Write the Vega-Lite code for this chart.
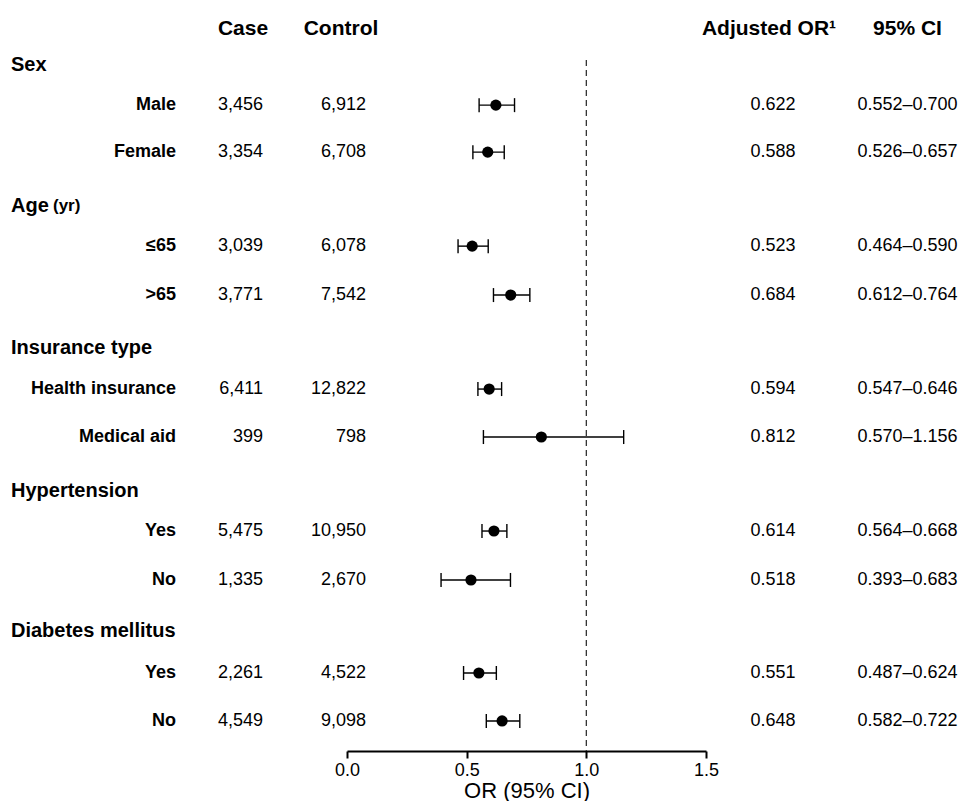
{
  "$schema": "https://vega.github.io/schema/vega-lite/v6.json",
  "padding": 0,
  "spacing": 0,
  "bounds": "flush",
  "background": "white",
  "config": {
    "view": {"stroke": null},
    "text": {"font": "Liberation Sans", "color": "black", "baseline": "middle"},
    "axis": {"labelFont": "Liberation Sans", "titleFont": "Liberation Sans", "labelColor": "black", "titleColor": "black"}
  },
  "datasets": {
    "headers": [
      {"pos": 0.6, "col": "case", "text": "Case"},
      {"pos": 0.6, "col": "control", "text": "Control"},
      {"pos": 0.6, "col": "or", "text": "Adjusted OR¹"},
      {"pos": 0.6, "col": "ci", "text": "95% CI"}
    ],
    "groups": [
      {"pos": 1.34, "label": "Sex"},
      {"pos": 4.25, "label": "Age", "suffix": "(yr)"},
      {"pos": 7.18, "label": "Insurance type"},
      {"pos": 10.13, "label": "Hypertension"},
      {"pos": 13.02, "label": "Diabetes mellitus"}
    ],
    "rows": [
      {"pos": 2.17, "label": "Male", "case": 3456, "control": 6912, "or": 0.622, "lo": 0.552, "hi": 0.700, "ci": "0.552–0.700"},
      {"pos": 3.14, "label": "Female", "case": 3354, "control": 6708, "or": 0.588, "lo": 0.526, "hi": 0.657, "ci": "0.526–0.657"},
      {"pos": 5.08, "label": "≤65", "case": 3039, "control": 6078, "or": 0.523, "lo": 0.464, "hi": 0.590, "ci": "0.464–0.590"},
      {"pos": 6.09, "label": ">65", "case": 3771, "control": 7542, "or": 0.684, "lo": 0.612, "hi": 0.764, "ci": "0.612–0.764"},
      {"pos": 8.03, "label": "Health insurance", "case": 6411, "control": 12822, "or": 0.594, "lo": 0.547, "hi": 0.646, "ci": "0.547–0.646"},
      {"pos": 9.02, "label": "Medical aid", "case": 399, "control": 798, "or": 0.812, "lo": 0.570, "hi": 1.156, "ci": "0.570–1.156"},
      {"pos": 10.96, "label": "Yes", "case": 5475, "control": 10950, "or": 0.614, "lo": 0.564, "hi": 0.668, "ci": "0.564–0.668"},
      {"pos": 11.97, "label": "No", "case": 1335, "control": 2670, "or": 0.518, "lo": 0.393, "hi": 0.683, "ci": "0.393–0.683"},
      {"pos": 13.89, "label": "Yes", "case": 2261, "control": 4522, "or": 0.551, "lo": 0.487, "hi": 0.624, "ci": "0.487–0.624"},
      {"pos": 14.88, "label": "No", "case": 4549, "control": 9098, "or": 0.648, "lo": 0.582, "hi": 0.722, "ci": "0.582–0.722"}
    ]
  },
  "hconcat": [
    {
      "width": 190,
      "height": 751,
      "layer": [
        {
          "data": {"name": "groups"},
          "mark": {"type": "text", "align": "left", "dx": -84, "fontSize": 20, "fontWeight": "bold"},
          "encoding": {
            "y": {"field": "pos", "type": "quantitative", "scale": {"domain": [0, 15.5], "reverse": true, "nice": false, "zero": false}, "axis": null},
            "text": {"field": "label"}
          }
        },
        {
          "data": {"name": "groups"},
          "transform": [{"filter": "datum.suffix"}],
          "mark": {"type": "text", "align": "left", "dx": -42, "fontSize": 17, "fontWeight": "bold"},
          "encoding": {
            "y": {"field": "pos", "type": "quantitative", "scale": {"domain": [0, 15.5], "reverse": true, "nice": false, "zero": false}, "axis": null},
            "text": {"field": "suffix"}
          }
        },
        {
          "data": {"name": "rows"},
          "mark": {"type": "text", "align": "right", "dx": 81, "fontSize": 18, "fontWeight": "bold"},
          "encoding": {
            "y": {"field": "pos", "type": "quantitative", "scale": {"domain": [0, 15.5], "reverse": true, "nice": false, "zero": false}, "axis": null},
            "text": {"field": "label"}
          }
        }
      ]
    },
    {
      "width": 80,
      "height": 751,
      "layer": [
        {
          "data": {"name": "headers"},
          "transform": [{"filter": "datum.col == 'case'"}],
          "mark": {"type": "text", "align": "center", "dx": 13, "fontSize": 21, "fontWeight": "bold"},
          "encoding": {
            "y": {"field": "pos", "type": "quantitative", "scale": {"domain": [0, 15.5], "reverse": true, "nice": false, "zero": false}, "axis": null},
            "text": {"field": "text"}
          }
        },
        {
          "data": {"name": "rows"},
          "mark": {"type": "text", "align": "right", "dx": 33, "fontSize": 18},
          "encoding": {
            "y": {"field": "pos", "type": "quantitative", "scale": {"domain": [0, 15.5], "reverse": true, "nice": false, "zero": false}, "axis": null},
            "text": {"field": "case", "type": "quantitative", "format": ","}
          }
        }
      ]
    },
    {
      "width": 77,
      "height": 751,
      "layer": [
        {
          "data": {"name": "headers"},
          "transform": [{"filter": "datum.col == 'control'"}],
          "mark": {"type": "text", "align": "center", "dx": 32.5, "fontSize": 21, "fontWeight": "bold"},
          "encoding": {
            "y": {"field": "pos", "type": "quantitative", "scale": {"domain": [0, 15.5], "reverse": true, "nice": false, "zero": false}, "axis": null},
            "text": {"field": "text"}
          }
        },
        {
          "data": {"name": "rows"},
          "mark": {"type": "text", "align": "right", "dx": 57.5, "fontSize": 18},
          "encoding": {
            "y": {"field": "pos", "type": "quantitative", "scale": {"domain": [0, 15.5], "reverse": true, "nice": false, "zero": false}, "axis": null},
            "text": {"field": "control", "type": "quantitative", "format": ","}
          }
        }
      ]
    },
    {
      "width": 359,
      "height": 751,
      "layer": [
        {
          "data": {"values": [{"ref": 1, "top": 1.24, "bottom": 15.5}]},
          "mark": {"type": "rule", "strokeDash": [6, 4], "color": "#333333", "strokeWidth": 1.3},
          "encoding": {
            "x": {"field": "ref", "type": "quantitative", "scale": {"domain": [0, 1.5], "nice": false, "zero": false},
              "axis": {"values": [0, 0.5, 1, 1.5], "format": ".1f", "title": "OR (95% CI)", "grid": false,
                "labelFlush": false, "labelOverlap": false, "labelBound": false,
                "domainColor": "black", "domainWidth": 2, "tickColor": "black", "tickWidth": 2, "tickSize": 7,
                "labelFontSize": 18, "titleFontSize": 22, "titleFontWeight": "normal", "labelPadding": 3, "titlePadding": 1}},
            "y": {"field": "top", "type": "quantitative", "scale": {"domain": [0, 15.5], "reverse": true, "nice": false, "zero": false}, "axis": null},
            "y2": {"field": "bottom"}
          }
        },
        {
          "data": {"name": "rows"},
          "mark": {"type": "rule", "color": "black", "strokeWidth": 1.4},
          "encoding": {
            "x": {"field": "lo", "type": "quantitative"},
            "x2": {"field": "hi"},
            "y": {"field": "pos", "type": "quantitative"}
          }
        },
        {
          "data": {"name": "rows"},
          "mark": {"type": "tick", "orient": "vertical", "color": "black", "size": 14, "thickness": 1.4, "opacity": 1},
          "encoding": {
            "x": {"field": "lo", "type": "quantitative"},
            "y": {"field": "pos", "type": "quantitative"}
          }
        },
        {
          "data": {"name": "rows"},
          "mark": {"type": "tick", "orient": "vertical", "color": "black", "size": 14, "thickness": 1.4, "opacity": 1},
          "encoding": {
            "x": {"field": "hi", "type": "quantitative"},
            "y": {"field": "pos", "type": "quantitative"}
          }
        },
        {
          "data": {"name": "rows"},
          "mark": {"type": "point", "filled": true, "shape": "circle", "color": "black", "size": 125, "opacity": 1},
          "encoding": {
            "x": {"field": "or", "type": "quantitative"},
            "y": {"field": "pos", "type": "quantitative"}
          }
        }
      ]
    },
    {
      "width": 134,
      "height": 751,
      "layer": [
        {
          "data": {"name": "headers"},
          "transform": [{"filter": "datum.col == 'or'"}],
          "mark": {"type": "text", "align": "center", "dx": -4, "fontSize": 21, "fontWeight": "bold"},
          "encoding": {
            "y": {"field": "pos", "type": "quantitative", "scale": {"domain": [0, 15.5], "reverse": true, "nice": false, "zero": false}, "axis": null},
            "text": {"field": "text"}
          }
        },
        {
          "data": {"name": "rows"},
          "mark": {"type": "text", "align": "center", "dx": 0, "fontSize": 18},
          "encoding": {
            "y": {"field": "pos", "type": "quantitative", "scale": {"domain": [0, 15.5], "reverse": true, "nice": false, "zero": false}, "axis": null},
            "text": {"field": "or", "type": "quantitative", "format": ".3f"}
          }
        }
      ]
    },
    {
      "width": 120,
      "height": 751,
      "layer": [
        {
          "data": {"name": "headers"},
          "transform": [{"filter": "datum.col == 'ci'"}],
          "mark": {"type": "text", "align": "center", "dx": 7.5, "fontSize": 21, "fontWeight": "bold"},
          "encoding": {
            "y": {"field": "pos", "type": "quantitative", "scale": {"domain": [0, 15.5], "reverse": true, "nice": false, "zero": false}, "axis": null},
            "text": {"field": "text"}
          }
        },
        {
          "data": {"name": "rows"},
          "mark": {"type": "text", "align": "center", "dx": 7.5, "fontSize": 18},
          "encoding": {
            "y": {"field": "pos", "type": "quantitative", "scale": {"domain": [0, 15.5], "reverse": true, "nice": false, "zero": false}, "axis": null},
            "text": {"field": "ci"}
          }
        }
      ]
    }
  ]
}
